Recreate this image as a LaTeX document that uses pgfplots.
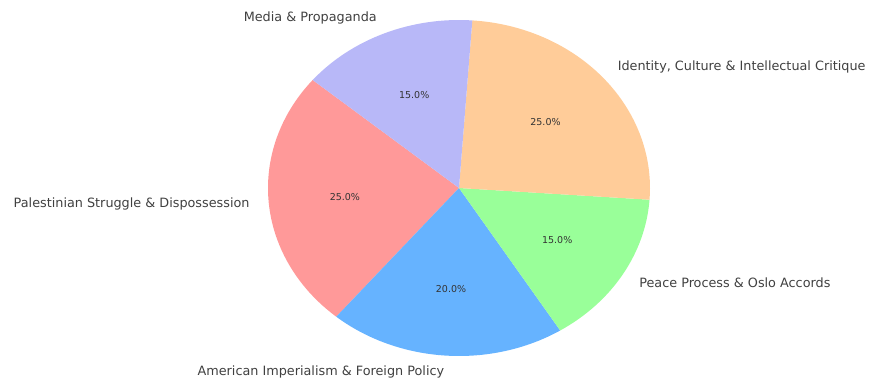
\documentclass[border=0pt]{standalone}
\usepackage{pgfplots}
\usepackage{pgfplotstable}
\pgfplotsset{compat=1.18}
\usepackage{fontspec}
\setmainfont{DejaVu Sans}
\definecolor{cPal}{HTML}{FF9999}
\definecolor{cAme}{HTML}{66B3FF}
\definecolor{cPea}{HTML}{99FF99}
\definecolor{cIde}{HTML}{FFCC99}
\definecolor{cMed}{HTML}{B8B8F8}
\pgfplotstableread[col sep=comma]{
topic,share,color
Palestinian Struggle \& Dispossession,25,cPal
American Imperialism \& Foreign Policy,20,cAme
Peace Process \& Oslo Accords,15,cPea
{Identity, Culture \& Intellectual Critique},25,cIde
Media \& Propaganda,15,cMed
}\piedata
\begin{document}
\begin{tikzpicture}
\begin{axis}[
  x=191pt, y=168pt,
  xmin=-2.40314, xmax=2.16754,
  ymin=-1.14881, ymax=1.11905,
  hide axis, clip=false,
]
\addplot[draw=none] coordinates {(-2.40314,-1.14881) (2.16754,1.11905)};
\pgfplotsextra{
  \gdef\cum{140}
  \pgfplotstablegetrowsof{\piedata}
  \pgfmathtruncatemacro\N{\pgfplotsretval-1}
  \foreach \i in {0,...,\N}{
    \pgfplotstablegetelem{\i}{share}\of{\piedata}\let\v\pgfplotsretval
    \pgfplotstablegetelem{\i}{color}\of{\piedata}\let\c\pgfplotsretval
    \pgfplotstablegetelem{\i}{topic}\of{\piedata}\let\t\pgfplotsretval
    \pgfmathsetmacro\a{\cum}
    \pgfmathsetmacro\b{\cum+3.6*\v}
    \pgfmathsetmacro\m{(\a+\b)/2}
    \fill[fill=\c] (axis cs:0,0) -- (axis cs:{cos(\a)},{sin(\a)})
      arc[start angle=\a, end angle=\b, x radius=191pt, y radius=168pt] -- cycle;
    \pgfmathsetmacro\lx{1.1*cos(\m)}
    \pgfmathsetmacro\ly{1.1*sin(\m)}
    \pgfmathsetmacro\px{0.6*cos(\m)}
    \pgfmathsetmacro\py{0.6*sin(\m)}
    \pgfmathparse{cos(\m)>0 ? 1 : 0}
    \ifnum\pgfmathresult=1 \def\anc{west}\else\def\anc{east}\fi
    \node[anchor=\anc, inner sep=0pt, font=\fontsize{12.8}{14}\selectfont, text=black!75] at (axis cs:\lx,\ly) {\t};
    \node[inner sep=0pt, font=\fontsize{9.5}{11}\selectfont, text=black!80] at (axis cs:\px,\py) {\pgfmathprintnumber[fixed,fixed zerofill,precision=1,assume math mode=true]{\v}\%};
    \xdef\cum{\b}
  }
}
\end{axis}
\end{tikzpicture}
\end{document}
